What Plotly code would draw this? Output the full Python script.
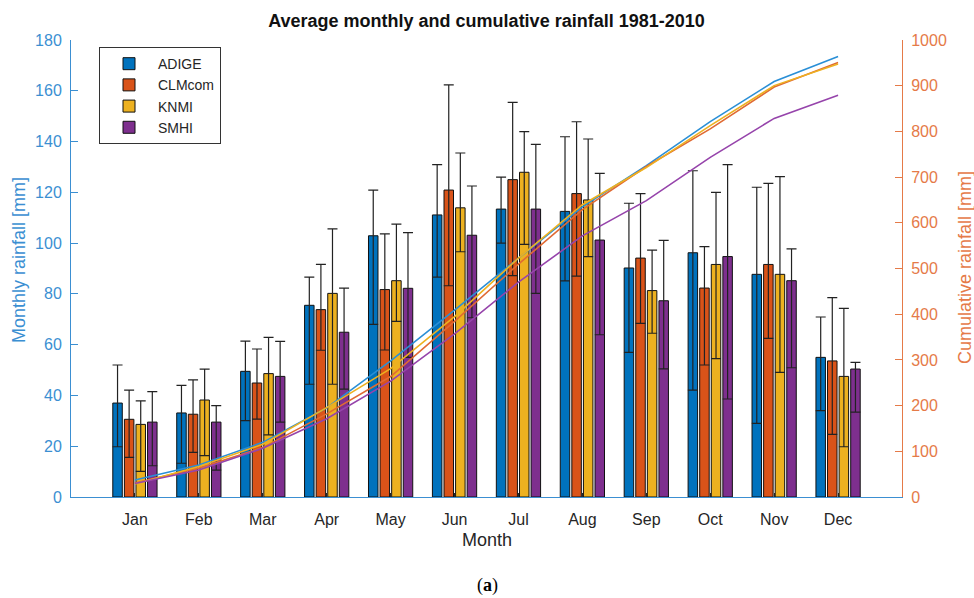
import numpy as np
import plotly.graph_objects as go

months = ["Jan", "Feb", "Mar", "Apr", "May", "Jun", "Jul", "Aug", "Sep", "Oct", "Nov", "Dec"]
month_pos = list(range(1, 13))
series = ["ADIGE", "CLMcom", "KNMI", "SMHI"]

adige_val = [37.0, 33.1, 49.5, 75.5, 102.9, 111.1, 113.4, 112.5, 90.2, 96.2, 87.7, 55.0]
adige_hi = [52.0, 44.0, 61.4, 86.6, 120.9, 130.9, 126.0, 141.9, 115.7, 128.5, 122.0, 70.9]
adige_lo = [19.8, 13.3, 30.1, 44.4, 68.0, 86.6, 100.0, 85.1, 57.0, 42.1, 29.0, 34.0]

clm_val = [30.6, 32.6, 44.9, 73.8, 81.7, 120.9, 125.0, 119.5, 94.1, 82.3, 91.6, 53.6]
clm_hi = [42.1, 46.1, 58.3, 91.6, 103.6, 162.3, 155.4, 147.8, 119.5, 98.6, 123.5, 78.5]
clm_lo = [15.6, 17.6, 30.7, 57.8, 57.9, 83.2, 87.2, 87.0, 68.4, 52.0, 62.5, 24.7]

knmi_val = [28.6, 38.2, 48.6, 80.2, 85.2, 113.9, 127.9, 117.0, 81.3, 91.6, 87.7, 47.5]
knmi_hi = [37.9, 50.4, 62.9, 105.6, 107.5, 135.5, 143.9, 141.0, 97.2, 120.0, 126.2, 74.3]
knmi_lo = [10.1, 16.3, 24.5, 44.4, 69.2, 96.6, 99.5, 94.7, 64.5, 54.5, 49.1, 19.8]

smhi_val = [29.5, 29.5, 47.5, 64.9, 82.2, 103.1, 113.4, 101.2, 77.3, 94.7, 85.2, 50.4]
smhi_hi = [41.5, 36.0, 61.3, 82.3, 104.1, 122.5, 138.9, 127.5, 101.1, 130.9, 97.7, 53.0]
smhi_lo = [12.3, 10.6, 29.5, 42.5, 55.0, 70.6, 80.2, 63.9, 50.5, 38.6, 50.9, 33.4]

left_ticks = list(range(0, 181, 20))
right_ticks = list(range(0, 1001, 100))

bar_colors = ["#0072BD", "#D95319", "#EDB120", "#7E2F8E"]
line_colors = ["#2a8fd6", "#e06a33", "#edb120", "#9644ab"]
left_col = "#3b8fd2"
right_col = "#e57a48"
txt = "#262626"
FONT = "Liberation Sans"

data = [
    (adige_val, adige_hi, adige_lo),
    (clm_val, clm_hi, clm_lo),
    (knmi_val, knmi_hi, knmi_lo),
    (smhi_val, smhi_hi, smhi_lo),
]

fig = go.Figure()
for i, (name, (v, hi, lo)) in enumerate(zip(series, data)):
    v = np.array(v)
    fig.add_trace(go.Bar(
        x=month_pos, y=v, name=name,
        marker=dict(color=bar_colors[i], line=dict(color="#111111", width=1)),
        error_y=dict(type="data", symmetric=False,
                     array=np.array(hi) - v, arrayminus=v - np.array(lo),
                     color="#222222", thickness=1.2, width=5),
        yaxis="y",
    ))

for i, (name, (v, hi, lo)) in enumerate(zip(series, data)):
    fig.add_trace(go.Scatter(
        x=month_pos, y=np.cumsum(v), mode="lines", name=name + " cum",
        line=dict(color=line_colors[i], width=1.6), showlegend=False,
        yaxis="y2",
    ))

fig.update_layout(
    width=974, height=598,
    margin=dict(l=71, r=72, t=40, b=101),
    paper_bgcolor="white", plot_bgcolor="white",
    font=dict(family=FONT, size=16, color=txt),
    barmode="group", bargap=0.275, bargroupgap=0.18,
    showlegend=True,
    legend=dict(x=0.0337, y=0.9845, xanchor="left", yanchor="top",
                bgcolor="white", bordercolor="#333333", borderwidth=1,
                font=dict(size=14, color=txt), itemwidth=48,
                tracegroupgap=0),
    xaxis=dict(range=[0, 13], tickvals=month_pos, ticktext=months,
               showline=True, linecolor=left_col, linewidth=1,
               ticks="inside", ticklen=4, tickcolor=txt,
               showgrid=False, zeroline=False,
               tickfont=dict(size=16, color=txt), ticklabelstandoff=8),
    yaxis=dict(range=[0, 180], tickvals=left_ticks,
               showline=True, linecolor=left_col, linewidth=1,
               ticks="inside", ticklen=7, tickcolor=left_col,
               showgrid=False, zeroline=False,
               tickfont=dict(size=16, color=left_col), ticklabelstandoff=5),
    yaxis2=dict(range=[0, 1000], tickvals=right_ticks, overlaying="y", side="right",
                showline=True, linecolor=right_col, linewidth=1,
                ticks="inside", ticklen=7, tickcolor=right_col,
                showgrid=False, zeroline=False,
                tickfont=dict(size=16, color=right_col), ticklabelstandoff=5),
    title=dict(text="<b>Average monthly and cumulative rainfall 1981-2010</b>",
               x=0.5, xref="paper", xanchor="center",
               y=1 - 21 / 598, yref="container", yanchor="middle",
               font=dict(size=18, color="#111111", family=FONT)),
    annotations=[
        dict(text="Month", xref="paper", yref="paper", x=0.5, y=-(540 - 497) / 457,
             xanchor="center", yanchor="middle", showarrow=False,
             font=dict(size=18, color=txt)),
        dict(text="Monthly rainfall [mm]", xref="paper", yref="paper",
             x=-(71 - 19) / 831, y=(497 - 260) / 457, textangle=-90,
             xanchor="center", yanchor="middle", showarrow=False,
             font=dict(size=18, color=left_col)),
        dict(text="Cumulative rainfall [mm]", xref="paper", yref="paper",
             x=1 + (965 - 902) / 831, y=(497 - 268) / 457, textangle=-90,
             xanchor="center", yanchor="middle", showarrow=False,
             font=dict(size=18, color=right_col)),
        dict(text="(<b>a</b>)", xref="paper", yref="paper",
             x=(487 - 71) / 831, y=-(585 - 497) / 457,
             xanchor="center", yanchor="middle", showarrow=False,
             font=dict(size=18, color="#000000", family="Liberation Serif")),
    ],
)

fig.write_html("out.html", config={"displayModeBar": False},
               post_script="document.body.style.margin='0px';document.body.style.overflow='hidden';")
